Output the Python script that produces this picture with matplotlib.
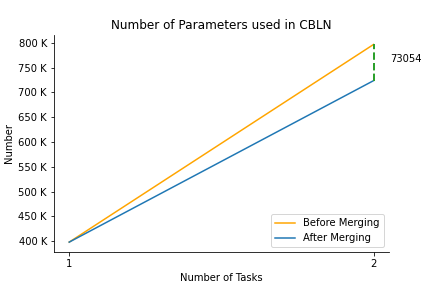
import matplotlib
matplotlib.use("Agg")
import matplotlib.pyplot as plt
from matplotlib.ticker import FuncFormatter

tasks = [1, 2]
before_merging = [398000, 797000]
after_merging = [398000, 723946]
diff_label = "73054"

fig, ax = plt.subplots(figsize=(6, 4), dpi=72)
fig.subplots_adjust(bottom=0.125)
ax.plot(tasks, before_merging, color="orange", label="Before Merging")
ax.plot(tasks, after_merging, color="tab:blue", label="After Merging")
ax.plot([tasks[-1], tasks[-1]], [after_merging[-1], before_merging[-1]], "--", color="tab:green", lw=2)
ax.text(tasks[-1] + 0.055, (before_merging[-1] + after_merging[-1]) / 2 + 8000, diff_label, va="center")
ax.set_xticks(tasks)
ax.yaxis.set_major_formatter(FuncFormatter(lambda v, p: f"{int(v/1000)} K"))
ax.spines["top"].set_visible(False)
ax.spines["right"].set_visible(False)
ax.set_title("Number of Parameters used in CBLN")
ax.set_xlabel("Number of Tasks")
ax.set_ylabel("Number")
ax.legend(loc="lower right")
fig.savefig("out.png")
